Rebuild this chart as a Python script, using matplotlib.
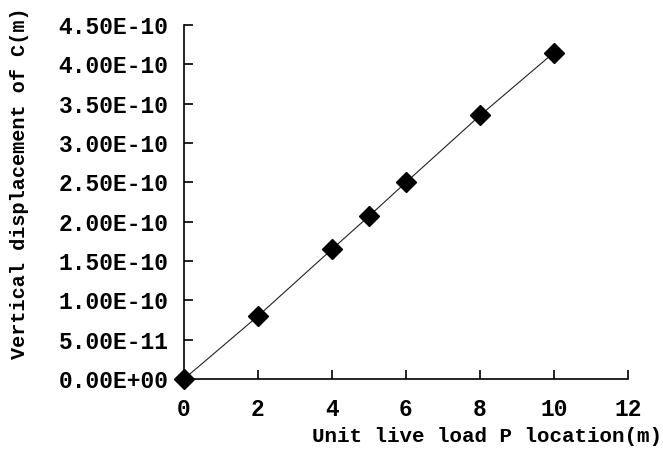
import matplotlib
matplotlib.use("Agg")
import matplotlib.pyplot as plt

# Data
x_pos = [0, 2, 4, 5, 6, 8, 10]
disp = [0.0, 0.80e-10, 1.65e-10, 2.07e-10, 2.50e-10, 3.35e-10, 4.15e-10]
x_ticks = [0, 2, 4, 6, 8, 10, 12]
y_ticks = [0.0, 0.5e-10, 1.0e-10, 1.5e-10, 2.0e-10, 2.5e-10, 3.0e-10, 3.5e-10, 4.0e-10, 4.5e-10]
y_tick_labels = ["0.00E+00", "5.00E-11", "1.00E-10", "1.50E-10", "2.00E-10",
                 "2.50E-10", "3.00E-10", "3.50E-10", "4.00E-10", "4.50E-10"]
x_label = "Unit live load P location(m)"
y_label = "Vertical displacement of C(m)"

font = "Liberation Mono"

fig = plt.figure(figsize=(6.63, 4.51), dpi=100)
ax = fig.add_axes([184/663, 1-379/451, (628-184)/663, (379-25)/451])

ax.plot(x_pos, disp, color="#222222", linewidth=0.8, marker="D", markersize=10,
        markerfacecolor="black", markeredgecolor="black", clip_on=False, zorder=3)

ax.set_xlim(0, 12)
ax.set_ylim(0, 4.5e-10)
ax.set_xticks(x_ticks)
ax.set_xticklabels([str(t) for t in x_ticks], fontfamily=font, fontweight="bold", fontsize=16.5)
ax.set_yticks(y_ticks)
ax.set_yticklabels(y_tick_labels, fontfamily=font, fontweight="bold", fontsize=16.5)

for s in ["top", "right"]:
    ax.spines[s].set_visible(False)
for s in ["left", "bottom"]:
    ax.spines[s].set_linewidth(1.2)

ax.tick_params(axis="both", direction="in", length=6.5, width=1.2, colors="black")
ax.tick_params(axis="y", pad=11)
ax.tick_params(axis="x", pad=14)

ax.set_xlabel(x_label, fontfamily=font, fontweight="bold", fontsize=15)
ax.xaxis.set_label_coords((487-184)/444, -(437-379)/354)
ax.xaxis.label.set_va("center")
ax.set_ylabel(y_label, fontfamily=font, fontweight="bold", fontsize=14.5)
ax.yaxis.set_label_coords((20-184)/444, (379-183)/354)
ax.yaxis.label.set_va("center")

fig.savefig("out.png", dpi=100)
